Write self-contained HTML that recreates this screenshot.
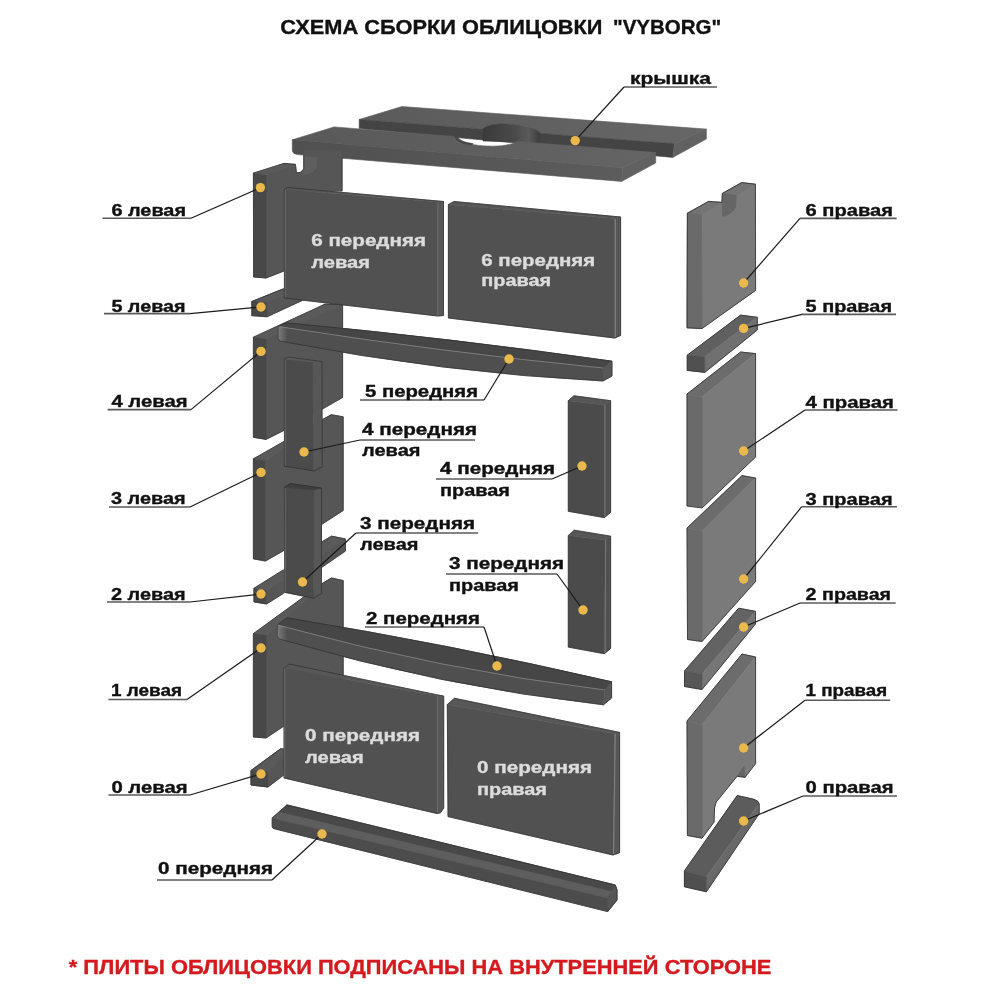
<!DOCTYPE html>
<html><head><meta charset="utf-8"><title>VYBORG</title>
<style>
html,body{margin:0;padding:0;background:#fff;}
svg{display:block;will-change:transform;}
text{font-family:"Liberation Sans",sans-serif;white-space:pre;}
</style></head>
<body>
<svg width="1000" height="1000" viewBox="0 0 1000 1000">
<defs>
<linearGradient id="gtop" gradientUnits="userSpaceOnUse" x1="300" y1="0" x2="700" y2="0"><stop offset="0" stop-color="#595959"/><stop offset="1" stop-color="#666666"/></linearGradient>
<linearGradient id="gfront" gradientUnits="userSpaceOnUse" x1="300" y1="0" x2="620" y2="0"><stop offset="0" stop-color="#505050"/><stop offset="1" stop-color="#5c5c5c"/></linearGradient>
<linearGradient id="gcyl" gradientUnits="userSpaceOnUse" x1="483" y1="0" x2="540" y2="0"><stop offset="0" stop-color="#3a3a3a"/><stop offset="0.55" stop-color="#4a4a4a"/><stop offset="0.8" stop-color="#5a5a5a"/><stop offset="1" stop-color="#3c3c3c"/></linearGradient>
<linearGradient id="gend" x1="0" y1="0" x2="1" y2="0"><stop offset="0" stop-color="#7c7c7c"/><stop offset="1" stop-color="#505050"/></linearGradient>
</defs>
<rect width="1000" height="1000" fill="#fff"/>
<g stroke-linejoin="round">
<path d="M359.2,119.5 L401.9,106.5 L706.4,129.1 L674.4,143.8 L540,133.4 C536,124 488,120 483,129 Z" fill="url(#gtop)" stroke="url(#gtop)" stroke-width="0.6" />
<polygon points="359.2,119.5 674.4,143.8 672.8,157.4 359.2,128.6" fill="#444444" stroke="#444444" stroke-width="0.6" />
<path d="M483,129 C488,120 536,124 540,133.4 L540,142.5 L483,141 Z" fill="url(#gcyl)" stroke="url(#gcyl)" stroke-width="0.6" />
<polygon points="674.4,143.8 706.4,129.1 706.4,139 672.8,157.4" fill="#616161" stroke="#616161" stroke-width="0.6" />
<path d="M292.3,139.8 L334,126.9 L454.4,136.5 C458,146 505,150 516.8,141.4 L655.7,152.6 L622.4,167.8 Z" fill="url(#gtop)" stroke="url(#gtop)" stroke-width="0.6" />
<path d="M454.4,136.5 C456,141.5 463,144 472,145 L473,143.6 C465,142.6 459.5,140.5 457.5,136.8 Z" fill="#474747" stroke="#474747" stroke-width="0.6" />
<path d="M292.3,139.8 L622.4,167.8 L621.6,181.4 L298,154.6 Q292.3,154 292.3,150 Z" fill="url(#gfront)" stroke="url(#gfront)" stroke-width="0.6" />
<polygon points="622.4,167.8 655.7,152.6 655.7,163 621.6,181.4" fill="#616161" stroke="#616161" stroke-width="0.6" />
<polygon points="266,175 283.9,163.4 295.4,164.4 296.5,172.8 300.5,172.3 303.8,169 303.8,150 342.1,150 342.1,191.2 284,191.2 284,271 266,278" fill="#565656" stroke="#565656" stroke-width="0.6" />
<polygon points="303.8,156.5 316.4,157.6 316.4,168 312,172.5 303.8,175" fill="#5f5f5f" stroke="#5f5f5f" stroke-width="0.6" />
<polygon points="253.4,173.1 283.9,163.4 295.4,164.4 266,175" fill="#5a5a5a" stroke="#5a5a5a" stroke-width="0.6" />
<polygon points="253.4,173.1 266,175 266,278 253.6,277" fill="#484848" stroke="#484848" stroke-width="0.6" />
<polyline points="253.6,277 253.4,173.1 283.9,163.4 295.4,164.4 296.5,172.8 300.5,172.3 303.8,169 303.8,155" fill="none" stroke="#2f2f2f" stroke-width="0.7"/>
<polyline points="342.1,157 342.1,191.2" fill="none" stroke="#2f2f2f" stroke-width="0.7"/>
<polyline points="253.6,277 266,278 284,271" fill="none" stroke="#2f2f2f" stroke-width="0.7"/>
<polygon points="251.8,301.5 284,288.5 302.2,297 302.2,300.5 267,316.8" fill="#565656" stroke="#565656" stroke-width="0.6" />
<polygon points="251.8,301.5 283.3,288.9 297,290 266,302.6" fill="#5a5a5a" stroke="#5a5a5a" stroke-width="0.6" />
<polygon points="251.8,301.5 266,302.6 267,316.8 251.8,315.7" fill="#484848" stroke="#484848" stroke-width="0.6" />
<polyline points="251.8,315.7 251.8,301.5 283.3,288.9" fill="none" stroke="#2f2f2f" stroke-width="0.7"/>
<polyline points="251.8,315.7 267,316.8 302.2,300.5" fill="none" stroke="#2f2f2f" stroke-width="0.7"/>
<polygon points="266,338.8 324.8,304.2 342.6,304.7 342.6,397.5 321.5,409.5 284,430.4 266,439.4" fill="#565656" stroke="#565656" stroke-width="0.6" />
<polygon points="253.4,337.2 324.8,304.2 342.6,304.7 266,338.8" fill="#5a5a5a" stroke="#5a5a5a" stroke-width="0.6" />
<polygon points="253.4,337.2 266,338.8 266,439.4 253.4,437.3" fill="#484848" stroke="#484848" stroke-width="0.6" />
<polyline points="253.4,437.3 253.4,337.2 324.8,304.2 342.6,304.7 342.6,397.5 321.5,409.5" fill="none" stroke="#2f2f2f" stroke-width="0.7"/>
<polyline points="253.4,437.3 266,439.4 284,430.4" fill="none" stroke="#2f2f2f" stroke-width="0.7"/>
<polygon points="265.5,460.4 322.7,419.4 331.6,414.7 343.2,416.8 343.2,510.5 321.5,524.5 321.5,545 284,550.4 265.5,561" fill="#565656" stroke="#565656" stroke-width="0.6" />
<polygon points="253.4,458.8 322.7,419.4 331.6,414.7 265.5,460.4" fill="#5a5a5a" stroke="#5a5a5a" stroke-width="0.6" />
<polygon points="253.4,458.8 265.5,460.4 265.5,561 253.4,558.9" fill="#484848" stroke="#484848" stroke-width="0.6" />
<polyline points="253.4,558.9 253.4,458.8 322.7,419.4 331.6,414.7 343.2,416.8 343.2,510.5 321.5,524.5" fill="none" stroke="#2f2f2f" stroke-width="0.7"/>
<polyline points="253.4,558.9 265.5,561 284,550.4" fill="none" stroke="#2f2f2f" stroke-width="0.7"/>
<polygon points="266.5,590.3 283.3,579 321.5,542 331.5,536.2 345.5,539 345.5,551 321.5,567.5 283.3,593.5 266.5,604" fill="#565656" stroke="#565656" stroke-width="0.6" />
<polygon points="253.9,588.3 283.3,569.9 331.5,536.2 345.5,539 321.5,555 266.5,590.3" fill="#5a5a5a" stroke="#5a5a5a" stroke-width="0.6" />
<polygon points="253.9,588.3 266.5,590.3 266.5,604 253.9,601.9" fill="#484848" stroke="#484848" stroke-width="0.6" />
<polyline points="253.9,601.9 253.9,588.3 283.3,569.9" fill="none" stroke="#2f2f2f" stroke-width="0.7"/>
<polyline points="321.5,542 331.5,536.2 345.5,539 345.5,551 321.5,567.5" fill="none" stroke="#2f2f2f" stroke-width="0.7"/>
<polyline points="253.9,601.9 266.5,604 283.3,593.5" fill="none" stroke="#2f2f2f" stroke-width="0.7"/>
<polygon points="266,635 321.5,584 331.5,578 343.2,580.5 343.2,680 284,680 284,726 266,738" fill="#565656" stroke="#565656" stroke-width="0.6" />
<polygon points="253.4,633.6 321.5,584 331.5,578 266,635" fill="#5a5a5a" stroke="#5a5a5a" stroke-width="0.6" />
<polygon points="253.4,633.6 266,635 266,738 253.4,737" fill="#484848" stroke="#484848" stroke-width="0.6" />
<polyline points="253.4,737 253.4,633.6 321.5,584 331.5,578 343.2,580.5 343.2,680" fill="none" stroke="#2f2f2f" stroke-width="0.7"/>
<polyline points="253.4,737 266,738 284,726" fill="none" stroke="#2f2f2f" stroke-width="0.7"/>
<polygon points="251,770.5 281,748.5 290,749.5 290,770 268,787 251,785" fill="#565656" stroke="#565656" stroke-width="0.6" />
<polygon points="251,770.5 281,748.5 292,749.5 267.5,772" fill="#5a5a5a" stroke="#5a5a5a" stroke-width="0.6" />
<polygon points="251,770.5 267.5,772 268,787 251,785" fill="#484848" stroke="#484848" stroke-width="0.6" />
<polyline points="251,785 251,770.5 281,748.5" fill="none" stroke="#2f2f2f" stroke-width="0.7"/>
<polyline points="251,785 268,787 284,775" fill="none" stroke="#2f2f2f" stroke-width="0.7"/>
<path d="M278,326.5 L286,322.8 Q449,338 612,361.2 L603,368 L603,381 Q445,373 279.7,341 L278,338 L278,327 Z" fill="#4f4f4f" stroke="#4f4f4f" stroke-width="0.6" />
<path d="M278,326.5 L286,322.8 Q449,338 612,361.2 L603,368 Q445,352.5 278,326.5 Z" fill="#464646" stroke="#464646" stroke-width="0.6" />
<path d="M278,326.5 Q283,327 287.5,328 L287.5,342 Q283,341.5 279.7,341 L278,338 Z" fill="url(#gend)" stroke="url(#gend)" stroke-width="0.6" />
<polygon points="603,368 612,361.2 612,376 603,381" fill="#575757" stroke="#575757" stroke-width="0.6" />
<path d="M278,326.5 Q445,352.5 603,368" fill="none" stroke="#8a8a8a" stroke-width="0.8"/>
<path d="M278,326.5 L286,322.8 Q449,338 612,361.2 L612,376 L603,381 Q445,373 279.7,341 L278,338 L278,327 Z" fill="none" stroke="#2f2f2f" stroke-width="0.7" stroke-linejoin="round"/>
<polygon points="284.4,189.6 437.6,202 437.6,316 284.4,298" fill="#515151" stroke="#515151" stroke-width="0.6" />
<polygon points="437.6,202 443.5,201.5 443.5,315.5 437.6,316" fill="#575757" stroke="#575757" stroke-width="0.6" />
<polygon points="284.4,189.6 287.5,187.5 443.5,201.5 437.6,202" fill="#575757" stroke="#575757" stroke-width="0.6" />
<polyline points="284.9,190 284.9,297.5" fill="none" stroke="#8c8c8c" stroke-width="0.9"/>
<polyline points="438,202.5 438,315.5" fill="none" stroke="#6e6e6e" stroke-width="0.9"/>
<polygon points="284.4,189.6 287.5,187.5 443.5,201.5 443.5,315.5 437.6,316 284.4,298" fill="none" stroke="#2f2f2f" stroke-width="0.7" stroke-linejoin="round"/>
<polygon points="448.4,204.5 614.8,218.5 614.8,338 448.4,318" fill="#515151" stroke="#515151" stroke-width="0.6" />
<polygon points="614.8,218.5 620.6,217 620.6,335.5 614.8,338" fill="#575757" stroke="#575757" stroke-width="0.6" />
<polygon points="448.4,204.5 454,201.5 620.6,217 614.8,218.5" fill="#575757" stroke="#575757" stroke-width="0.6" />
<polyline points="615.3,219 615.3,337.5" fill="none" stroke="#8a8a8a" stroke-width="0.9"/>
<polygon points="448.4,204.5 454,201.5 620.6,217 620.6,335.5 614.8,338 448.4,318" fill="none" stroke="#2f2f2f" stroke-width="0.7" stroke-linejoin="round"/>
<polygon points="284.4,359 313,362 313.8,470.9 284.4,466.1" fill="#4b4b4b" stroke="#4b4b4b" stroke-width="0.6" />
<polygon points="313,362 322,361.5 322.2,467 313.8,470.9" fill="#575757" stroke="#575757" stroke-width="0.6" />
<polygon points="284.4,359 288,357 322,361.5 313,362" fill="#5a5a5a" stroke="#5a5a5a" stroke-width="0.6" />
<polyline points="284.9,359.5 284.9,465.5" fill="none" stroke="#8c8c8c" stroke-width="0.9"/>
<polygon points="284.4,359 288,357 322,361.5 322.2,467 313.8,470.9 284.4,466.1" fill="none" stroke="#2f2f2f" stroke-width="0.7" stroke-linejoin="round"/>
<polygon points="284.4,487.2 314.3,490 313.8,598.2 284.9,592.4" fill="#4b4b4b" stroke="#4b4b4b" stroke-width="0.6" />
<polygon points="314.3,490 321.5,488 321.5,593.5 313.8,598.2" fill="#575757" stroke="#575757" stroke-width="0.6" />
<polygon points="284.4,487.2 290.2,483.5 321.5,488 314.3,490" fill="#3f3f3f" stroke="#3f3f3f" stroke-width="0.6" />
<polyline points="284.9,488 285.2,592" fill="none" stroke="#8c8c8c" stroke-width="0.9"/>
<polygon points="284.4,487.2 290.2,483.5 321.5,488 321.5,593.5 313.8,598.2 284.9,592.4" fill="none" stroke="#2f2f2f" stroke-width="0.7" stroke-linejoin="round"/>
<polygon points="568.3,400.7 604.3,405 604.3,517.6 568.3,511.3" fill="#4b4b4b" stroke="#4b4b4b" stroke-width="0.6" />
<polygon points="604.3,405 610.6,400.7 610.6,512.4 604.3,517.6" fill="#505050" stroke="#505050" stroke-width="0.6" />
<polygon points="568.3,400.7 573.9,395.8 610.6,400.7 604.3,405" fill="#565656" stroke="#565656" stroke-width="0.6" />
<polyline points="605,405 605,517" fill="none" stroke="#7a7a7a" stroke-width="0.9"/>
<polygon points="568.3,400.7 573.9,395.8 610.6,400.7 610.6,512.4 604.3,517.6 568.3,511.3" fill="none" stroke="#2f2f2f" stroke-width="0.7" stroke-linejoin="round"/>
<polygon points="568.3,535.5 605.4,540 604.3,653.7 568.3,647.1" fill="#4b4b4b" stroke="#4b4b4b" stroke-width="0.6" />
<polygon points="605.4,540 610.6,536.2 610.6,648.5 604.3,653.7" fill="#505050" stroke="#505050" stroke-width="0.6" />
<polygon points="568.3,535.5 574.2,530.2 610.6,536.2 605.4,540" fill="#565656" stroke="#565656" stroke-width="0.6" />
<polyline points="605.6,540 605.2,653" fill="none" stroke="#7a7a7a" stroke-width="0.9"/>
<polygon points="568.3,535.5 574.2,530.2 610.6,536.2 610.6,648.5 604.3,653.7 568.3,647.1" fill="none" stroke="#2f2f2f" stroke-width="0.7" stroke-linejoin="round"/>
<path d="M277.2,625 L287,617.9 Q449,644.2 611.6,681.8 L604.7,690 L603.5,704.8 Q441,686.7 279,638.9 L277.2,636 L277.2,625 Z" fill="#4f4f4f" stroke="#4f4f4f" stroke-width="0.6" />
<path d="M277.2,625 L287,617.9 Q449,644.2 611.6,681.8 L604.7,690 Q441,670 277.2,625 Z" fill="#464646" stroke="#464646" stroke-width="0.6" />
<path d="M277.2,625 Q282,626 287,627.5 L287,641.5 Q283,640 279,638.9 L277.2,636 Z" fill="url(#gend)" stroke="url(#gend)" stroke-width="0.6" />
<polygon points="604.7,690 611.6,681.8 611.6,698 603.5,704.8" fill="#575757" stroke="#575757" stroke-width="0.6" />
<path d="M277.2,625 Q441,670 604.7,690" fill="none" stroke="#8a8a8a" stroke-width="0.8"/>
<path d="M277.2,625 L287,617.9 Q449,644.2 611.6,681.8 L611.6,698 L603.5,704.8 Q441,686.7 279,638.9 L277.2,636 L277.2,625 Z" fill="none" stroke="#2f2f2f" stroke-width="0.7" stroke-linejoin="round"/>
<polygon points="284,668 437,695.8 437,813.5 284,778" fill="#515151" stroke="#515151" stroke-width="0.6" />
<polygon points="437,695.8 443.7,696.2 443.7,808 440.5,812.8 437,813.5" fill="#575757" stroke="#575757" stroke-width="0.6" />
<polygon points="284,668 289,664 443.7,696.2 437,695.8" fill="#575757" stroke="#575757" stroke-width="0.6" />
<polyline points="284.6,668.5 284.6,777.5" fill="none" stroke="#8c8c8c" stroke-width="0.9"/>
<polyline points="437.5,696.5 437.5,813" fill="none" stroke="#6e6e6e" stroke-width="0.9"/>
<polygon points="284,668 289,664 443.7,696.2 443.7,808 440.5,812.8 437,813.5 284,778" fill="none" stroke="#2f2f2f" stroke-width="0.7" stroke-linejoin="round"/>
<polygon points="447.3,704.5 614.8,733.5 613,855 448,816.6" fill="#515151" stroke="#515151" stroke-width="0.6" />
<polygon points="614.8,733.5 619.6,732.4 619.6,852.7 613,855" fill="#575757" stroke="#575757" stroke-width="0.6" />
<polygon points="447.3,704.5 454.5,698.3 619.6,732.4 614.8,733.5" fill="#575757" stroke="#575757" stroke-width="0.6" />
<polyline points="615.2,734 613.5,854.5" fill="none" stroke="#8a8a8a" stroke-width="0.9"/>
<polygon points="447.3,704.5 454.5,698.3 619.6,732.4 619.6,852.7 613,855 448,816.6" fill="none" stroke="#2f2f2f" stroke-width="0.7" stroke-linejoin="round"/>
<polygon points="286.9,804.9 615.3,885 617,890 617,900 607.7,911.6 273.3,828.5 272.2,827 272.2,817.9" fill="#4c4c4c" stroke="#4c4c4c" stroke-width="0.6" />
<polygon points="286.9,804.9 615.3,885 611.5,891.5 280.5,812.5" fill="#494949" stroke="#494949" stroke-width="0.6" />
<polygon points="280.5,812.5 611.5,891.5 607.7,898 272.2,818" fill="#5e5e5e" stroke="#5e5e5e" stroke-width="0.6" />
<polygon points="607.7,898 611.5,891.5 615.3,885 617,890 617,900 607.7,911.6" fill="#555555" stroke="#555555" stroke-width="0.6" />
<polygon points="286.9,804.9 615.3,885 617,890 617,900 607.7,911.6 273.3,828.5 272.2,827 272.2,817.9" fill="none" stroke="#2f2f2f" stroke-width="0.7" stroke-linejoin="round"/>
<polygon points="687.4,213.2 708.6,201.4 721.8,202.4 722.4,193.4 741.6,182.6 755.4,184.2 755.6,290.4 702,328.5 687,327.8" fill="#7a7a7a" stroke="#7a7a7a" stroke-width="0.6" />
<polygon points="687.4,213.2 708.6,201.4 721.8,202.4 701.4,214.5" fill="#747474" stroke="#747474" stroke-width="0.6" />
<polygon points="722.4,193.4 741.6,182.6 755.4,184.2 736.2,195.2" fill="#747474" stroke="#747474" stroke-width="0.6" />
<path d="M722.4,193.4 L736.2,195.2 L735.8,207 Q733,213 724,216.5 L722.4,216 Z" fill="#666666" stroke="#666666" stroke-width="0.6" />
<polygon points="687.4,213.2 701.4,214.5 702,328.5 687,327.8" fill="#6a6a6a" stroke="#6a6a6a" stroke-width="0.6" />
<polygon points="687.4,213.2 708.6,201.4 721.8,202.4 722.4,193.4 741.6,182.6 755.4,184.2 755.6,290.4 702,328.5 687,327.8" fill="none" stroke="#2f2f2f" stroke-width="0.8" stroke-linejoin="round"/>
<polygon points="687.2,355.2 740.6,315.1 757.3,317.3 704.8,356.8" fill="#606060" stroke="#606060" stroke-width="0.6" />
<polygon points="704.8,356.8 757.3,317.3 757.3,330 704.8,372.4" fill="#707070" stroke="#707070" stroke-width="0.6" />
<polygon points="687.2,355.2 704.8,356.8 704.8,372.4 687.2,370.4" fill="#505050" stroke="#505050" stroke-width="0.6" />
<polygon points="687.2,355.2 740.6,315.1 757.3,317.3 757.3,330 704.8,372.4 687.2,370.4" fill="none" stroke="#2f2f2f" stroke-width="0.8" stroke-linejoin="round"/>
<polygon points="687,394 740.6,352 755.6,353.6 702,397" fill="#6c6c6c" stroke="#6c6c6c" stroke-width="0.6" />
<polygon points="702,397 755.6,353.6 755.6,457 702,508" fill="#7a7a7a" stroke="#7a7a7a" stroke-width="0.6" />
<polygon points="687,394 702,397 702,507.6 687,506" fill="#6a6a6a" stroke="#6a6a6a" stroke-width="0.6" />
<polygon points="687,394 740.6,352 755.6,353.6 755.6,457 702,508 687,506" fill="none" stroke="#2f2f2f" stroke-width="0.8" stroke-linejoin="round"/>
<polygon points="687,528 742,475.6 755.6,478 702,531" fill="#6c6c6c" stroke="#6c6c6c" stroke-width="0.6" />
<polygon points="702,531 755.6,478 755.6,581.5 702,641.5" fill="#7a7a7a" stroke="#7a7a7a" stroke-width="0.6" />
<polygon points="687,528 702,531 702,641.5 687.5,639.5" fill="#6a6a6a" stroke="#6a6a6a" stroke-width="0.6" />
<polygon points="687,528 742,475.6 755.6,478 755.6,581.5 702,641.5 687.5,639.5" fill="none" stroke="#2f2f2f" stroke-width="0.8" stroke-linejoin="round"/>
<polygon points="684.5,671 738.6,608.2 755.5,611.3 702,674" fill="#636363" stroke="#636363" stroke-width="0.6" />
<polygon points="702,674 755.5,611.3 755.5,624 702,689.5" fill="#767676" stroke="#767676" stroke-width="0.6" />
<polygon points="684.5,671 702,674 702,689.5 684.5,686.5" fill="#575757" stroke="#575757" stroke-width="0.6" />
<polygon points="684.5,671 738.6,608.2 755.5,611.3 755.5,624 702,689.5 684.5,686.5" fill="none" stroke="#2f2f2f" stroke-width="0.8" stroke-linejoin="round"/>
<polygon points="687,721 742,654 755.6,657 702,725" fill="#6c6c6c" stroke="#6c6c6c" stroke-width="0.6" />
<polygon points="702,725 755.6,657 755.6,763.6 745.1,777.3 737.2,776.2 716.2,802 714.5,808 714.1,822 702,838.2" fill="#7a7a7a" stroke="#7a7a7a" stroke-width="0.6" />
<polygon points="737.2,776.2 744,766.2 745.1,777.3" fill="#656565" stroke="#656565" stroke-width="0.6" />
<polygon points="687,721 702,725 702,838.2 687.4,835.5" fill="#6a6a6a" stroke="#6a6a6a" stroke-width="0.6" />
<polygon points="687,721 742,654 755.6,657 755.6,763.6 745.1,777.3 737.2,776.2 716.2,802 714.5,808 714.1,822 702,838.2 687.4,835.5" fill="none" stroke="#2f2f2f" stroke-width="0.8" stroke-linejoin="round"/>
<path d="M684.4,870.9 L737.2,795.5 L754,799.3 Q759,801 759.2,804 L706.4,877 Z" fill="#5c5c5c" stroke="#5c5c5c" stroke-width="0.6" />
<polygon points="706.4,877 759.2,804 759.2,813.7 706.4,891.8" fill="#686868" stroke="#686868" stroke-width="0.6" />
<polygon points="684.4,870.9 706.4,877 706.4,891.8 684.4,886.8" fill="#4f4f4f" stroke="#4f4f4f" stroke-width="0.6" />
<polyline points="707,876.5 757.5,806" fill="none" stroke="#707070" stroke-width="1.2"/>
<path d="M684.4,870.9 L737.2,795.5 L754,799.3 Q759,801 759.2,804 L759.2,813.7 L706.4,891.8 L684.4,886.8 Z" fill="none" stroke="#2f2f2f" stroke-width="0.8" stroke-linejoin="round"/>
</g>
<g>
<line x1="102.4" y1="218.2" x2="191" y2="218.2" stroke="#5a5a5a" stroke-width="1.6"/>
<polyline points="191,218.2 260.4,187.6" fill="none" stroke="#1a1a1a" stroke-width="1.2"/>
<line x1="104" y1="313.6" x2="190" y2="313.6" stroke="#5a5a5a" stroke-width="1.6"/>
<polyline points="190,313.6 261,307" fill="none" stroke="#1a1a1a" stroke-width="1.2"/>
<line x1="107.6" y1="409.6" x2="191" y2="409.6" stroke="#5a5a5a" stroke-width="1.6"/>
<polyline points="191,409.6 261,351.4" fill="none" stroke="#1a1a1a" stroke-width="1.2"/>
<line x1="109" y1="507" x2="190" y2="507" stroke="#5a5a5a" stroke-width="1.6"/>
<polyline points="190,507 261,472.4" fill="none" stroke="#1a1a1a" stroke-width="1.2"/>
<line x1="107" y1="602" x2="190" y2="602" stroke="#5a5a5a" stroke-width="1.6"/>
<polyline points="190,602 261,594" fill="none" stroke="#1a1a1a" stroke-width="1.2"/>
<line x1="108.4" y1="699.5" x2="187" y2="699.5" stroke="#5a5a5a" stroke-width="1.6"/>
<polyline points="187,699.5 261,648" fill="none" stroke="#1a1a1a" stroke-width="1.2"/>
<line x1="108.4" y1="795" x2="190" y2="795" stroke="#5a5a5a" stroke-width="1.6"/>
<polyline points="190,795 261,774" fill="none" stroke="#1a1a1a" stroke-width="1.2"/>
<line x1="157" y1="880" x2="272" y2="880" stroke="#5a5a5a" stroke-width="1.6"/>
<polyline points="272,880 322,834" fill="none" stroke="#1a1a1a" stroke-width="1.2"/>
<line x1="800" y1="218.4" x2="896.6" y2="218.4" stroke="#5a5a5a" stroke-width="1.6"/>
<polyline points="800,218.4 743.6,283" fill="none" stroke="#1a1a1a" stroke-width="1.2"/>
<line x1="802" y1="314.4" x2="896" y2="314.4" stroke="#5a5a5a" stroke-width="1.6"/>
<polyline points="802,314.4 743.6,328.4" fill="none" stroke="#1a1a1a" stroke-width="1.2"/>
<line x1="805" y1="410" x2="897.6" y2="410" stroke="#5a5a5a" stroke-width="1.6"/>
<polyline points="805,410 743.6,451" fill="none" stroke="#1a1a1a" stroke-width="1.2"/>
<line x1="801.7" y1="506.7" x2="897" y2="506.7" stroke="#5a5a5a" stroke-width="1.6"/>
<polyline points="801.7,506.7 743.6,579" fill="none" stroke="#1a1a1a" stroke-width="1.2"/>
<line x1="800" y1="603" x2="895.7" y2="603" stroke="#5a5a5a" stroke-width="1.6"/>
<polyline points="800,603 743.6,627" fill="none" stroke="#1a1a1a" stroke-width="1.2"/>
<line x1="805" y1="700.2" x2="890.2" y2="700.2" stroke="#5a5a5a" stroke-width="1.6"/>
<polyline points="805,700.2 743.6,748" fill="none" stroke="#1a1a1a" stroke-width="1.2"/>
<line x1="803" y1="796" x2="897" y2="796" stroke="#5a5a5a" stroke-width="1.6"/>
<polyline points="803,796 743.6,821" fill="none" stroke="#1a1a1a" stroke-width="1.2"/>
<line x1="624" y1="87" x2="717" y2="87" stroke="#5a5a5a" stroke-width="1.6"/>
<polyline points="624,87 575.2,140.6" fill="none" stroke="#1a1a1a" stroke-width="1.2"/>
<line x1="360" y1="400" x2="484" y2="400" stroke="#5a5a5a" stroke-width="1.6"/>
<polyline points="484,400 509,359" fill="none" stroke="#1a1a1a" stroke-width="1.2"/>
<line x1="360" y1="440" x2="475" y2="440" stroke="#5a5a5a" stroke-width="1.6"/>
<polyline points="360,440 304,452" fill="none" stroke="#1a1a1a" stroke-width="1.2"/>
<line x1="356" y1="533" x2="478" y2="533" stroke="#5a5a5a" stroke-width="1.6"/>
<polyline points="356,533 302.5,582" fill="none" stroke="#1a1a1a" stroke-width="1.2"/>
<line x1="436" y1="479" x2="552" y2="479" stroke="#5a5a5a" stroke-width="1.6"/>
<polyline points="552,479 582,466" fill="none" stroke="#1a1a1a" stroke-width="1.2"/>
<line x1="446" y1="574" x2="557" y2="574" stroke="#5a5a5a" stroke-width="1.6"/>
<polyline points="557,574 583,610" fill="none" stroke="#1a1a1a" stroke-width="1.2"/>
<line x1="365" y1="627" x2="484" y2="627" stroke="#5a5a5a" stroke-width="1.6"/>
<polyline points="484,627 497,666" fill="none" stroke="#1a1a1a" stroke-width="1.2"/>
</g>
<g>
<circle cx="260.4" cy="187.6" r="4.7" fill="#ebb94b"/>
<circle cx="261" cy="307" r="4.7" fill="#ebb94b"/>
<circle cx="261" cy="351.4" r="4.7" fill="#ebb94b"/>
<circle cx="261" cy="472.4" r="4.7" fill="#ebb94b"/>
<circle cx="261" cy="594" r="4.7" fill="#ebb94b"/>
<circle cx="261" cy="648" r="4.7" fill="#ebb94b"/>
<circle cx="261" cy="774" r="4.7" fill="#ebb94b"/>
<circle cx="322" cy="834" r="4.7" fill="#ebb94b"/>
<circle cx="743.6" cy="283" r="4.7" fill="#ebb94b"/>
<circle cx="743.6" cy="328.4" r="4.7" fill="#ebb94b"/>
<circle cx="743.6" cy="451" r="4.7" fill="#ebb94b"/>
<circle cx="743.6" cy="579" r="4.7" fill="#ebb94b"/>
<circle cx="743.6" cy="627" r="4.7" fill="#ebb94b"/>
<circle cx="743.6" cy="748" r="4.7" fill="#ebb94b"/>
<circle cx="743.6" cy="821" r="4.7" fill="#ebb94b"/>
<circle cx="575.2" cy="140.6" r="4.7" fill="#ebb94b"/>
<circle cx="509" cy="359" r="4.7" fill="#ebb94b"/>
<circle cx="304" cy="452" r="4.7" fill="#ebb94b"/>
<circle cx="302.5" cy="582" r="4.7" fill="#ebb94b"/>
<circle cx="582" cy="466" r="4.7" fill="#ebb94b"/>
<circle cx="583" cy="610" r="4.7" fill="#ebb94b"/>
<circle cx="497" cy="666" r="4.7" fill="#ebb94b"/>
</g>
<g>
<text x="111.4" y="216.1" font-size="16" fill="#111" stroke="#111" stroke-width="0.35" font-weight="bold" textLength="74.6" lengthAdjust="spacingAndGlyphs" xml:space="preserve">6 левая</text>
<text x="111.4" y="311.5" font-size="16" fill="#111" stroke="#111" stroke-width="0.35" font-weight="bold" textLength="74.2" lengthAdjust="spacingAndGlyphs" xml:space="preserve">5 левая</text>
<text x="111.4" y="407.1" font-size="16" fill="#111" stroke="#111" stroke-width="0.35" font-weight="bold" textLength="76.2" lengthAdjust="spacingAndGlyphs" xml:space="preserve">4 левая</text>
<text x="111" y="503.5" font-size="16" fill="#111" stroke="#111" stroke-width="0.35" font-weight="bold" textLength="74.6" lengthAdjust="spacingAndGlyphs" xml:space="preserve">3 левая</text>
<text x="111" y="599.5" font-size="16" fill="#111" stroke="#111" stroke-width="0.35" font-weight="bold" textLength="74.6" lengthAdjust="spacingAndGlyphs" xml:space="preserve">2 левая</text>
<text x="111" y="695.5" font-size="16" fill="#111" stroke="#111" stroke-width="0.35" font-weight="bold" textLength="71" lengthAdjust="spacingAndGlyphs" xml:space="preserve">1 левая</text>
<text x="111.4" y="792.9" font-size="16" fill="#111" stroke="#111" stroke-width="0.35" font-weight="bold" textLength="76.2" lengthAdjust="spacingAndGlyphs" xml:space="preserve">0 левая</text>
<text x="158" y="874.1" font-size="16" fill="#111" stroke="#111" stroke-width="0.35" font-weight="bold" textLength="115" lengthAdjust="spacingAndGlyphs" xml:space="preserve">0 передняя</text>
<text x="805.6" y="216.1" font-size="16" fill="#111" stroke="#111" stroke-width="0.35" font-weight="bold" textLength="87.4" lengthAdjust="spacingAndGlyphs" xml:space="preserve">6 правая</text>
<text x="805.6" y="311.5" font-size="16" fill="#111" stroke="#111" stroke-width="0.35" font-weight="bold" textLength="86.4" lengthAdjust="spacingAndGlyphs" xml:space="preserve">5 правая</text>
<text x="805.5" y="408.0" font-size="16" fill="#111" stroke="#111" stroke-width="0.35" font-weight="bold" textLength="88.5" lengthAdjust="spacingAndGlyphs" xml:space="preserve">4 правая</text>
<text x="805.6" y="504.5" font-size="16" fill="#111" stroke="#111" stroke-width="0.35" font-weight="bold" textLength="87" lengthAdjust="spacingAndGlyphs" xml:space="preserve">3 правая</text>
<text x="805.6" y="600.0" font-size="16" fill="#111" stroke="#111" stroke-width="0.35" font-weight="bold" textLength="85.5" lengthAdjust="spacingAndGlyphs" xml:space="preserve">2 правая</text>
<text x="805.6" y="696.0" font-size="16" fill="#111" stroke="#111" stroke-width="0.35" font-weight="bold" textLength="81.5" lengthAdjust="spacingAndGlyphs" xml:space="preserve">1 правая</text>
<text x="805.6" y="792.5" font-size="16" fill="#111" stroke="#111" stroke-width="0.35" font-weight="bold" textLength="88" lengthAdjust="spacingAndGlyphs" xml:space="preserve">0 правая</text>
<text x="630" y="83.5" font-size="16" fill="#111" stroke="#111" stroke-width="0.35" font-weight="bold" textLength="81" lengthAdjust="spacingAndGlyphs" xml:space="preserve">крышка</text>
<text x="365" y="396.5" font-size="16" fill="#111" stroke="#111" stroke-width="0.35" font-weight="bold" textLength="113" lengthAdjust="spacingAndGlyphs" xml:space="preserve">5 передняя</text>
<text x="362" y="434.5" font-size="16" fill="#111" stroke="#111" stroke-width="0.35" font-weight="bold" textLength="115" lengthAdjust="spacingAndGlyphs" xml:space="preserve">4 передняя</text>
<text x="362" y="455.5" font-size="16" fill="#111" stroke="#111" stroke-width="0.35" font-weight="bold" textLength="58.5" lengthAdjust="spacingAndGlyphs" xml:space="preserve">левая</text>
<text x="360" y="528.5" font-size="16" fill="#111" stroke="#111" stroke-width="0.35" font-weight="bold" textLength="115" lengthAdjust="spacingAndGlyphs" xml:space="preserve">3 передняя</text>
<text x="360" y="549.5" font-size="16" fill="#111" stroke="#111" stroke-width="0.35" font-weight="bold" textLength="58.5" lengthAdjust="spacingAndGlyphs" xml:space="preserve">левая</text>
<text x="440" y="473.5" font-size="16" fill="#111" stroke="#111" stroke-width="0.35" font-weight="bold" textLength="115" lengthAdjust="spacingAndGlyphs" xml:space="preserve">4 передняя</text>
<text x="440" y="495.5" font-size="16" fill="#111" stroke="#111" stroke-width="0.35" font-weight="bold" textLength="70" lengthAdjust="spacingAndGlyphs" xml:space="preserve">правая</text>
<text x="449" y="568.5" font-size="16" fill="#111" stroke="#111" stroke-width="0.35" font-weight="bold" textLength="115" lengthAdjust="spacingAndGlyphs" xml:space="preserve">3 передняя</text>
<text x="449" y="590.5" font-size="16" fill="#111" stroke="#111" stroke-width="0.35" font-weight="bold" textLength="70" lengthAdjust="spacingAndGlyphs" xml:space="preserve">правая</text>
<text x="366" y="623.8" font-size="16" fill="#111" stroke="#111" stroke-width="0.35" font-weight="bold" textLength="114" lengthAdjust="spacingAndGlyphs" xml:space="preserve">2 передняя</text>
<text x="311.2" y="246.3" font-size="16" fill="#dcdcdc" stroke="#dcdcdc" stroke-width="0.35" font-weight="bold" textLength="114.8" lengthAdjust="spacingAndGlyphs" xml:space="preserve">6 передняя</text>
<text x="311.2" y="268.4" font-size="16" fill="#dcdcdc" stroke="#dcdcdc" stroke-width="0.35" font-weight="bold" textLength="58.8" lengthAdjust="spacingAndGlyphs" xml:space="preserve">левая</text>
<text x="481.2" y="265.5" font-size="16" fill="#dcdcdc" stroke="#dcdcdc" stroke-width="0.35" font-weight="bold" textLength="114" lengthAdjust="spacingAndGlyphs" xml:space="preserve">6 передняя</text>
<text x="481.2" y="286.3" font-size="16" fill="#dcdcdc" stroke="#dcdcdc" stroke-width="0.35" font-weight="bold" textLength="70" lengthAdjust="spacingAndGlyphs" xml:space="preserve">правая</text>
<text x="305" y="740.5" font-size="16" fill="#dcdcdc" stroke="#dcdcdc" stroke-width="0.35" font-weight="bold" textLength="115" lengthAdjust="spacingAndGlyphs" xml:space="preserve">0 передняя</text>
<text x="305" y="762.5" font-size="16" fill="#dcdcdc" stroke="#dcdcdc" stroke-width="0.35" font-weight="bold" textLength="58.8" lengthAdjust="spacingAndGlyphs" xml:space="preserve">левая</text>
<text x="477" y="772.5" font-size="16" fill="#dcdcdc" stroke="#dcdcdc" stroke-width="0.35" font-weight="bold" textLength="115" lengthAdjust="spacingAndGlyphs" xml:space="preserve">0 передняя</text>
<text x="477" y="794.5" font-size="16" fill="#dcdcdc" stroke="#dcdcdc" stroke-width="0.35" font-weight="bold" textLength="70" lengthAdjust="spacingAndGlyphs" xml:space="preserve">правая</text>
<text x="280.3" y="34.3" font-size="20" fill="#111" stroke="#111" stroke-width="0.35" font-weight="bold" textLength="322.2" lengthAdjust="spacingAndGlyphs" xml:space="preserve">СХЕМА СБОРКИ ОБЛИЦОВКИ</text>
<text x="613" y="34.3" font-size="20" fill="#111" stroke="#111" stroke-width="0.35" font-weight="bold" textLength="108.2" lengthAdjust="spacingAndGlyphs" xml:space="preserve">"VYBORG"</text>
<text x="68.8" y="974.2" font-size="19.5" fill="#d41a1f" stroke="#d41a1f" stroke-width="0.35" font-weight="bold" textLength="702.5" lengthAdjust="spacingAndGlyphs" xml:space="preserve">* ПЛИТЫ ОБЛИЦОВКИ ПОДПИСАНЫ НА ВНУТРЕННЕЙ СТОРОНЕ</text>
</g>
</svg>
</body></html>
